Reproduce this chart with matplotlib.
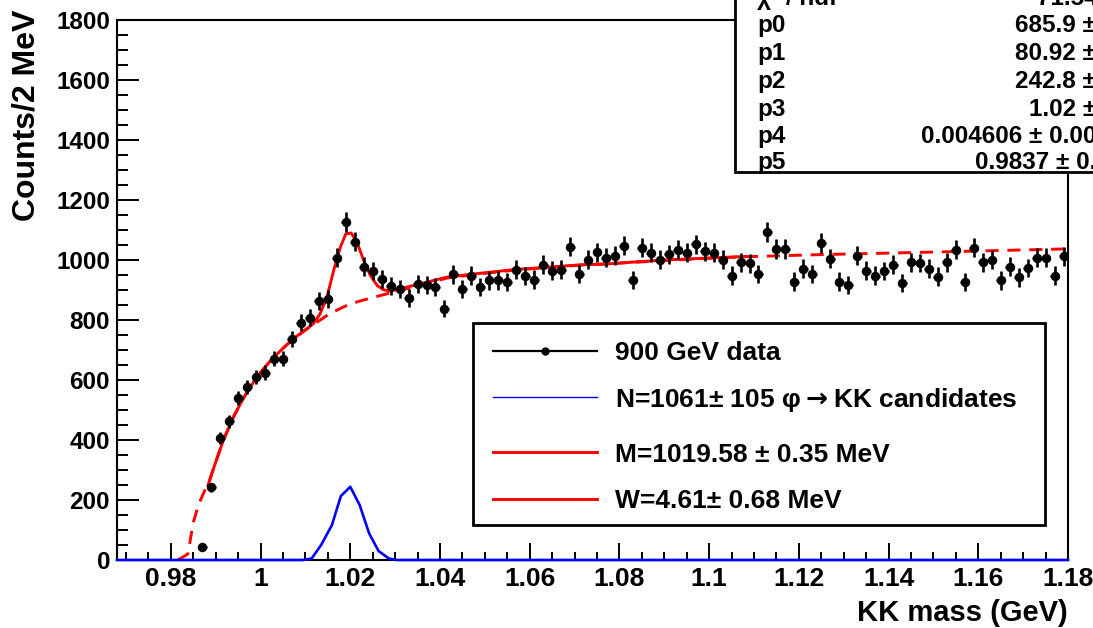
import numpy as np
import matplotlib
matplotlib.use("Agg")
import matplotlib.pyplot as plt
from matplotlib.patches import Rectangle
from matplotlib.lines import Line2D
from matplotlib.ticker import MultipleLocator, FuncFormatter

# --- data ---
bin_width = 0.002
n_bins = 97
first_center = 0.987
counts = [44, 242, 406, 462, 540, 577, 610, 625, 671, 671, 737, 791, 808, 863, 870,
          1007, 1126, 1061, 978, 963, 936, 912,
          904, 874, 921, 918, 910, 838, 952, 903, 948, 910, 932, 932, 926, 968, 946,
          935, 985, 965, 968, 1045, 954,
          1001, 1026, 1007, 1014, 1048, 934, 1041, 1024, 1001, 1019, 1034, 1024, 1052,
          1029, 1024, 1001, 948, 993, 989,
          954, 1093, 1037, 1037, 928, 971, 953, 1056, 1004, 928, 917, 1015, 965, 948,
          963, 984, 923, 993, 990,
          971, 945, 993, 1034, 926, 1041, 993, 1001, 932, 978, 942, 973, 1007, 1007,
          948, 1013]

# total fit (solid red), drawn over the fit range
fit_x = [0.9883, 0.9894, 0.9917, 0.9939, 0.9962, 0.9984, 1.0006, 1.0029, 1.0051, 1.0073,
         1.0096, 1.0118, 1.0133, 1.0148, 1.0163, 1.0178, 1.0190, 1.0202, 1.0215, 1.0230,
         1.0245, 1.0260, 1.0274, 1.0289, 1.0297, 1.0341, 1.0416, 1.0491, 1.0565, 1.0640,
         1.0714, 1.0766, 1.0840, 1.0915, 1.0989, 1.1083]
fit_y = [250, 300, 399, 475, 540, 592, 637, 675, 707, 737,
         763, 788, 821, 876, 965, 1043, 1087, 1090, 1059, 998,
         948, 915, 901, 896, 899, 915, 943, 956, 968, 976,
         984, 986, 994, 1001, 1006, 1012]

# background (dashed red)
bkg_x = [0.9816, 0.9838, 0.9850, 0.9862, 0.9875, 0.9883, 0.9894, 0.9917, 0.9939, 0.9962,
         0.9984, 1.0006, 1.0029, 1.0051, 1.0073, 1.0096, 1.0118, 1.0155, 1.0200, 1.0245,
         1.0289, 1.0341, 1.0416, 1.0491, 1.0565, 1.0640, 1.0714, 1.0840, 1.0989, 1.1083,
         1.1250, 1.1460, 1.1630, 1.1798]
bkg_y = [0, 20, 125, 185, 230, 250, 300, 399, 475, 540,
         592, 637, 675, 707, 737, 762, 785, 822, 854, 873,
         890, 910, 940, 954, 966, 975, 983, 993, 1005, 1011,
         1018, 1025, 1031, 1037]

# signal (blue)
sig_x = [0.968, 1.0094, 1.0114, 1.0135, 1.0159, 1.0179, 1.0200, 1.0221, 1.0242, 1.0263,
         1.0286, 1.0304, 1.18]
sig_y = [0, 0, 5, 50, 116, 213, 244, 183, 89, 30, 5, 0, 0]

stat_names = ["p0", "p1", "p2", "p3", "p4", "p5"]
stat_values = ["685.9 \u00b1", "80.92 \u00b1", "242.8 \u00b1", "1.02 \u00b1",
               "0.004606 \u00b1 0.00", "0.9837 \u00b1 0."]
chi2_text = "71.54"

legend_labels = ["900 GeV data",
                 "N=1061\u00b1 105 \u03c6$\\rightarrow$KK candidates",
                 "M=1019.58 \u00b1 0.35 MeV",
                 "W=4.61\u00b1 0.68 MeV"]

W, H = 1093, 628
FONT = ["Liberation Sans", "DejaVu Sans"]
plt.rcParams["font.family"] = FONT
plt.rcParams["font.weight"] = "bold"


def fx(px):
    return px / W


def fy(py):
    return 1 - py / H


fig = plt.figure(figsize=(W / 100, H / 100), dpi=100)
ax = fig.add_axes([fx(117), fy(560), (1068 - 117) / W, (560 - 20) / H])

centers = np.round(first_center + bin_width * np.arange(n_bins), 4)
counts = np.array(counts, dtype=float)
errs = np.sqrt(counts)

ax.plot(bkg_x, bkg_y, color="red", lw=2.1, ls=(0, (4.5, 3)), zorder=2)
ax.plot(fit_x, fit_y, color="red", lw=2.1, zorder=3)
ax.plot(sig_x, sig_y, color="blue", lw=1.9, zorder=4, clip_on=False)
ax.errorbar(centers, counts, yerr=errs, xerr=bin_width / 2, fmt="o", color="black",
            ms=5.8, elinewidth=1.9, capsize=0, zorder=5)

ax.set_xlim(0.968, 1.18)
ax.set_ylim(0, 1800)
ax.xaxis.set_major_locator(MultipleLocator(0.02))
ax.xaxis.set_minor_locator(MultipleLocator(0.005))
ax.yaxis.set_major_locator(MultipleLocator(200))
ax.yaxis.set_minor_locator(MultipleLocator(50))
ax.xaxis.set_major_formatter(FuncFormatter(lambda v, p: "%g" % round(v, 3)))
ax.tick_params(axis="both", which="both", direction="in", top=False, right=False,
               width=1.4)
ax.tick_params(axis="y", which="major", length=15.5, pad=5, labelsize=17.5)
ax.tick_params(axis="y", which="minor", length=8)
ax.tick_params(axis="x", which="major", length=12, pad=5, labelsize=19)
ax.tick_params(axis="x", which="minor", length=6)
for lab in ax.get_xticklabels() + ax.get_yticklabels():
    lab.set_fontweight("bold")
for sp in ax.spines.values():
    sp.set_linewidth(1.5)

fig.text(fx(27), fy(10), "Counts/2 MeV", rotation=90, ha="center", va="top",
         fontsize=23, fontweight="bold")
fig.text(fx(1068), fy(621), "KK mass (GeV)", ha="right", va="baseline",
         fontsize=21, fontweight="bold")

# stats box (clipped by the canvas edge)
fig.patches.append(Rectangle((fx(735), fy(172)), fx(1110) - fx(735), fy(-10) - fy(172),
                             transform=fig.transFigure, facecolor="white",
                             edgecolor="black", lw=2, zorder=5))
row_y = [23, 51, 79, 107, 134, 160]
fig.text(fx(757), fy(-4), "\u03c7\u00b2 / ndf", ha="left", va="center_baseline",
         fontsize=17.5, zorder=6)
fig.text(fx(1098), fy(-4), chi2_text, ha="right", va="center_baseline",
         fontsize=17.5, zorder=6)
for name, val, yy in zip(stat_names, stat_values, row_y):
    fig.text(fx(757), fy(yy), name, ha="left", va="center_baseline", fontsize=17.5,
             zorder=6)
    fig.text(fx(1096), fy(yy), val, ha="right", va="center_baseline", fontsize=17.5,
             zorder=6)

# legend box
fig.patches.append(Rectangle((fx(473), fy(525)), fx(1045) - fx(473), fy(323) - fy(525),
                             transform=fig.transFigure, facecolor="white",
                             edgecolor="black", lw=2, zorder=5))
leg_y = [351, 397, 452, 499]
leg_colors = ["black", "blue", "red", "red"]
leg_lw = [1.6, 1.0, 2.1, 2.1]
for lab, col, lw, yy in zip(legend_labels, leg_colors, leg_lw, leg_y):
    fig.lines.append(Line2D([fx(493), fx(597)], [fy(yy), fy(yy)], color=col, lw=lw,
                            transform=fig.transFigure, zorder=6))
    fig.text(fx(615), fy(yy), lab, ha="left", va="center_baseline", fontsize=19,
             fontweight="bold", zorder=6)
fig.lines.append(Line2D([fx(545)], [fy(leg_y[0])], marker="o", ms=5, color="black",
                        transform=fig.transFigure, zorder=7))

fig.savefig("out.png", dpi=100)
